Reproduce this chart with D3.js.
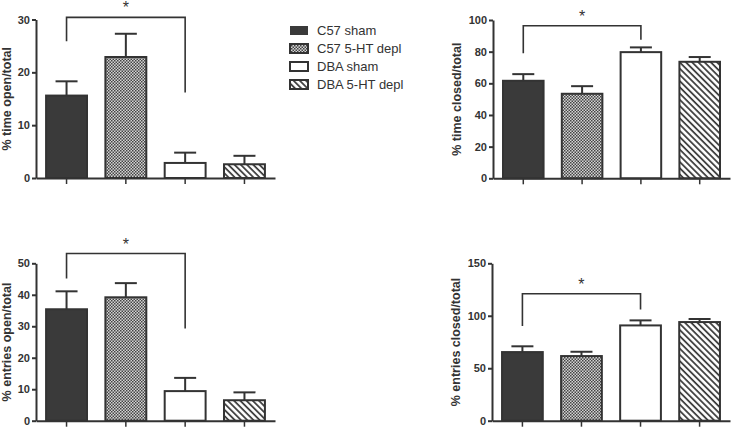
<!DOCTYPE html>
<html><head><meta charset="utf-8">
<script src="https://cdn.jsdelivr.net/npm/d3@7"></script>
<style>
body{margin:0;background:#fff;}
svg{display:block;font-family:"Liberation Sans",Arial,sans-serif;}
</style></head>
<body>
<svg id="chart" width="732" height="427"></svg>
<script>
const groups = ["C57 sham","C57 5-HT depl","DBA sham","DBA 5-HT depl"];
const fills = ["solid","dots","white","hatch"];

const timeOpenMean = [15.6, 22.9, 2.85, 2.6];
const timeOpenSem  = [2.7, 4.4, 1.95, 1.6];
const timeClosedMean = [61.6, 53.4, 79.7, 73.6];
const timeClosedSem  = [4.2, 4.8, 3.0, 3.0];
const entriesOpenMean = [35.4, 39.2, 9.4, 6.5];
const entriesOpenSem  = [5.7, 4.5, 4.2, 2.5];
const entriesClosedMean = [65.4, 61.6, 90.8, 94.0];
const entriesClosedSem  = [5.5, 4.1, 4.8, 2.9];

const timeOpenTicks = [0,10,20,30];
const timeClosedTicks = [0,20,40,60,80,100];
const entriesOpenTicks = [0,10,20,30,40,50];
const entriesClosedTicks = [0,50,100,150];

// significance brackets: [top, left leg end, right leg end]
const timeOpenBracket = [30.4, 25.9, 16.2];
const timeClosedBracket = [96.4, 79, 87.5];
const entriesOpenBracket = [53.1, 45.2, 29.3];
const entriesClosedBracket = [121, 90.2, 106];

const ink = "#333";
const svg = d3.select("#chart");
const defs = svg.append("defs");

const dots = defs.append("pattern").attr("id","dots").attr("patternUnits","userSpaceOnUse")
  .attr("width",3).attr("height",3);
dots.append("rect").attr("width",3).attr("height",3).attr("fill","#d4d4d4");
dots.append("rect").attr("width",1.5).attr("height",1.5).attr("fill","#444");
dots.append("rect").attr("x",1.5).attr("y",1.5).attr("width",1.5).attr("height",1.5).attr("fill","#444");

const hatch = defs.append("pattern").attr("id","hatch").attr("patternUnits","userSpaceOnUse")
  .attr("width",4.4).attr("height",8).attr("patternTransform","rotate(-45)");
hatch.append("rect").attr("width",4.4).attr("height",8).attr("fill","#fff");
hatch.append("line").attr("x1",1).attr("y1",0).attr("x2",1).attr("y2",8)
  .attr("stroke","#333").attr("stroke-width",1.7);

function fillOf(k){
  if(k==="solid") return "#3a3a3a";
  if(k==="dots") return "url(#dots)";
  if(k==="white") return "#fff";
  return "url(#hatch)";
}

const panels = [
  {means:timeOpenMean, sems:timeOpenSem, ticks:timeOpenTicks, br:timeOpenBracket, label:"% time open/total",
   x0:36, x1:275, yTop:19.5, yBot:178, max:30, labOff:25},
  {means:timeClosedMean, sems:timeClosedSem, ticks:timeClosedTicks, br:timeClosedBracket, label:"% time closed/total",
   x0:493, x1:730, yTop:20, yBot:178.3, max:100, labOff:32},
  {means:entriesOpenMean, sems:entriesOpenSem, ticks:entriesOpenTicks, br:entriesOpenBracket, label:"% entries open/total",
   x0:36, x1:275, yTop:263.3, yBot:420.7, max:50, labOff:25},
  {means:entriesClosedMean, sems:entriesClosedSem, ticks:entriesClosedTicks, br:entriesClosedBracket, label:"% entries closed/total",
   x0:492, x1:730, yTop:263.3, yBot:420.7, max:150, labOff:32}
];

panels.forEach(p=>{
  const g = svg.append("g");
  const x = d3.scaleBand().domain(groups).range([p.x0,p.x1]).paddingInner(0.31).paddingOuter(0.17);
  const y = d3.scaleLinear().domain([0,p.max]).range([p.yBot,p.yTop]);

  groups.forEach((gname,i)=>{
    const bx = x(gname), bw = x.bandwidth(), cx = bx+bw/2;
    g.append("line").attr("x1",cx).attr("x2",cx).attr("y1",y(p.means[i])).attr("y2",y(p.means[i]+p.sems[i]))
      .attr("stroke",ink).attr("stroke-width",2);
    g.append("line").attr("x1",cx-11).attr("x2",cx+11).attr("y1",y(p.means[i]+p.sems[i])).attr("y2",y(p.means[i]+p.sems[i]))
      .attr("stroke",ink).attr("stroke-width",2);
    g.append("rect").attr("x",bx).attr("width",bw).attr("y",y(p.means[i])).attr("height",y(0)-y(p.means[i]))
      .attr("fill",fillOf(fills[i])).attr("stroke",ink).attr("stroke-width",2);
  });

  const ya = g.append("g").attr("transform",`translate(${p.x0},0)`)
    .call(d3.axisLeft(y).tickValues(p.ticks).tickSize(4).tickPadding(2).tickSizeOuter(0));
  ya.select(".domain").attr("stroke",ink).attr("stroke-width",2);
  ya.selectAll(".tick line").attr("stroke",ink).attr("stroke-width",2);
  ya.selectAll(".tick text").attr("fill",ink).attr("font-size",11).attr("font-weight","bold")
    .attr("font-family","'Liberation Sans',Arial,sans-serif");

  const xa = g.append("g").attr("transform",`translate(0,${p.yBot})`)
    .call(d3.axisBottom(x).tickSize(6).tickSizeOuter(0).tickFormat(""));
  xa.select(".domain").attr("stroke",ink).attr("stroke-width",2);
  xa.selectAll(".tick line").attr("stroke",ink).attr("stroke-width",1.5);

  g.append("text").attr("transform",`translate(${p.x0-p.labOff},${(p.yTop+p.yBot)/2}) rotate(-90)`)
    .attr("text-anchor","middle").attr("font-size",12.5).attr("font-weight","bold").attr("fill",ink)
    .text(p.label);

  const xl = x(groups[0])+x.bandwidth()/2, xr = x(groups[2])+x.bandwidth()/2;
  g.append("path").attr("d",`M${xl},${y(p.br[1])}V${y(p.br[0])}H${xr}V${y(p.br[2])}`)
    .attr("fill","none").attr("stroke",ink).attr("stroke-width",1.6);
  g.append("text").attr("x",(xl+xr)/2).attr("y",y(p.br[0])-4).attr("text-anchor","middle")
    .attr("font-size",16).attr("fill",ink).text("*");
});

const lg = svg.append("g");
groups.forEach((gname,i)=>{
  const yy = 26 + i*18;
  lg.append("rect").attr("x",290).attr("y",yy).attr("width",18).attr("height",9)
    .attr("fill",fillOf(fills[i])).attr("stroke",ink).attr("stroke-width",fills[i]==="solid"?0:2);
  lg.append("text").attr("x",317).attr("y",yy+9).attr("font-size",13).attr("fill",ink).text(gname);
});
</script>
</body></html>
